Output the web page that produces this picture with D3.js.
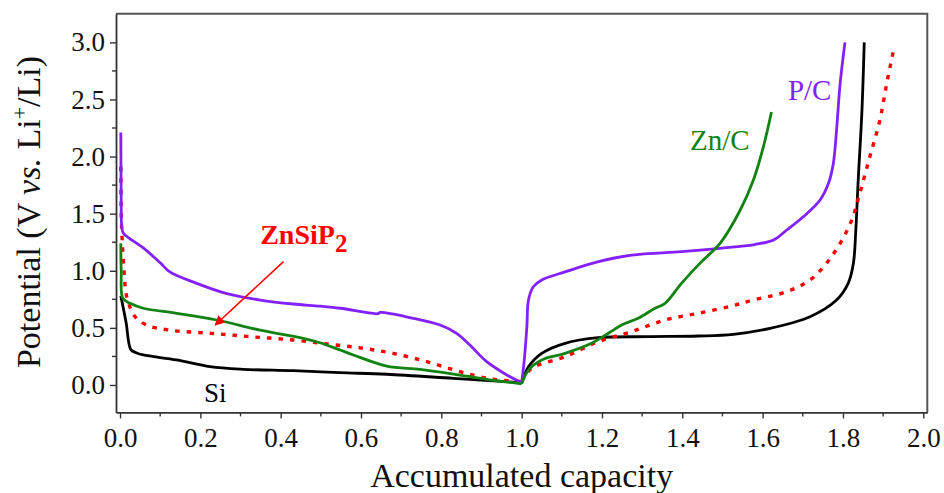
<!DOCTYPE html>
<html>
<head>
<meta charset="utf-8">
<script src="https://cdn.jsdelivr.net/npm/d3@7"></script>
<style>
  html, body { margin: 0; padding: 0; background: #fff; }
  svg { display: block; font-family: "Liberation Serif", "Times New Roman", serif; }
</style>
</head>
<body>
<svg id="chart" width="944" height="493"></svg>
<script>
// Voltage profiles: discharge (0 → 1) followed by charge (1 → end), accumulated capacity
const siCurve = [
  [0.002,0.78],[0.015,0.55],[0.027,0.31],[0.04,0.283],[0.058,0.263],[0.141,0.219],[0.224,0.16],
  [0.307,0.137],[0.431,0.125],[0.548,0.108],[0.664,0.094],[0.83,0.058],[1.0,0.02],
  [1.017,0.16],[1.05,0.277],[1.108,0.365],[1.191,0.414],[1.315,0.423],[1.44,0.429],[1.527,0.444],
  [1.618,0.496],[1.718,0.598],[1.784,0.744],[1.813,0.89],[1.826,1.066],[1.832,1.357],
  [1.838,1.795],[1.847,2.38],[1.853,3.0]
];
const znsip2Curve = [
  [0.002,1.91],[0.003,1.5],[0.005,1.30],[0.01,1.0],[0.017,0.77],[0.037,0.60],[0.066,0.525],
  [0.124,0.48],[0.224,0.453],[0.324,0.423],[0.431,0.394],[0.523,0.356],[0.606,0.321],
  [0.68,0.277],[0.764,0.204],[0.846,0.117],[0.929,0.05],[1.0,0.03],
  [1.025,0.146],[1.108,0.248],[1.191,0.379],[1.274,0.467],[1.357,0.569],[1.44,0.628],
  [1.523,0.692],[1.577,0.744],[1.66,0.817],[1.718,0.919],[1.759,1.066],[1.793,1.24],
  [1.822,1.445],[1.842,1.68],[1.867,2.0],[1.892,2.32],[1.909,2.64],[1.927,2.95]
];
const pcCurve = [
  [0.002,2.21],[0.003,1.6],[0.004,1.40],[0.008,1.33],[0.025,1.28],[0.058,1.20],[0.1,1.07],
  [0.124,0.99],[0.191,0.89],[0.266,0.80],[0.349,0.744],[0.431,0.709],[0.498,0.69],[0.548,0.672],
  [0.641,0.624],[0.648,0.635],[0.73,0.584],[0.797,0.525],[0.838,0.452],[0.871,0.35],
  [0.913,0.204],[0.963,0.088],[1.0,0.02],
  [1.006,0.2],[1.013,0.51],[1.017,0.744],[1.029,0.86],[1.05,0.92],[1.108,0.99],[1.191,1.08],
  [1.274,1.138],[1.398,1.167],[1.494,1.197],[1.58,1.23],[1.627,1.27],[1.66,1.357],[1.71,1.50],
  [1.743,1.62],[1.764,1.766],[1.776,1.94],[1.784,2.23],[1.793,2.64],[1.805,3.0]
];
const zncCurve = [
  [0.002,1.24],[0.003,1.0],[0.007,0.76],[0.025,0.715],[0.058,0.672],[0.141,0.628],[0.241,0.569],
  [0.349,0.48],[0.456,0.409],[0.498,0.37],[0.548,0.306],[0.581,0.263],[0.664,0.166],
  [0.747,0.137],[0.83,0.096],[0.913,0.05],[1.0,0.01],
  [1.017,0.131],[1.05,0.219],[1.108,0.277],[1.174,0.365],[1.216,0.453],[1.249,0.525],
  [1.29,0.584],[1.332,0.672],[1.357,0.715],[1.398,0.89],[1.448,1.08],[1.494,1.24],
  [1.544,1.53],[1.577,1.795],[1.602,2.087],[1.622,2.39]
];

const xMajorTicks = [0.0,0.2,0.4,0.6,0.8,1.0,1.2,1.4,1.6,1.8,2.0];
const xMinorTicks = [0.1,0.3,0.5,0.7,0.9,1.1,1.3,1.5,1.7,1.9];
const yMajorTicks = [0.0,0.5,1.0,1.5,2.0,2.5,3.0];
const yMinorTicks = [0.25,0.75,1.25,1.75,2.25,2.75];

const svg = d3.select("#chart");
const x = d3.scaleLinear().domain([-0.01, 2.01]).range([116, 927.3]);
const y = d3.scaleLinear().domain([-0.24, 3.25]).range([412.4, 13.8]);

// frame on top and right
svg.append("path")
  .attr("d", `M${x.range()[0]},${y.range()[1]}H${x.range()[1]}V${y.range()[0]}`)
  .attr("fill", "none").attr("stroke", "#555").attr("stroke-width", 2);

// bottom axis
const gx = svg.append("g").attr("transform", `translate(0,${y.range()[0]})`);
gx.call(d3.axisBottom(x).tickValues(xMajorTicks).tickSize(6).tickSizeOuter(0).tickPadding(9)
  .tickFormat(d3.format(".1f")));
gx.append("g").selectAll("line").data(xMinorTicks).join("line")
  .attr("x1", d => x(d)).attr("x2", d => x(d)).attr("y1", 0).attr("y2", 4)
  .attr("stroke", "#333").attr("stroke-width", 1.4);

// left axis
const gy = svg.append("g").attr("transform", `translate(${x.range()[0]},0)`);
gy.call(d3.axisLeft(y).tickValues(yMajorTicks).tickSize(6).tickSizeOuter(0).tickPadding(5)
  .tickFormat(d3.format(".1f")));
gy.append("g").selectAll("line").data(yMinorTicks).join("line")
  .attr("y1", d => y(d)).attr("y2", d => y(d)).attr("x1", 0).attr("x2", -4)
  .attr("stroke", "#333").attr("stroke-width", 1.4);

[gx, gy].forEach(g => {
  g.select(".domain").attr("stroke", "#333").attr("stroke-width", 1.8);
  g.selectAll(".tick line").attr("stroke", "#333").attr("stroke-width", 1.4);
  g.selectAll(".tick text").attr("font-family", "Liberation Serif").attr("font-size", 27).attr("fill", "#111");
});

// axis titles
svg.append("text")
  .attr("x", x(1.0)).attr("y", 487)
  .attr("text-anchor", "middle").attr("font-size", 34).attr("fill", "#111")
  .text("Accumulated capacity");

const yTitle = svg.append("text")
  .attr("transform", `translate(40,${212}) rotate(-90)`)
  .attr("text-anchor", "middle").attr("font-size", 34).attr("fill", "#111");
yTitle.append("tspan").text("Potential (V ");
yTitle.append("tspan").attr("font-style", "italic").text("vs.");
yTitle.append("tspan").text(" Li");
yTitle.append("tspan").attr("font-size", 22).attr("dy", -13).text("+");
yTitle.append("tspan").attr("dy", 13).text("/Li)");

// curves: discharge and charge branches are smoothed separately so the turn at 1.0 stays sharp
const line = d3.line().x(d => x(d[0])).y(d => y(d[1])).curve(d3.curveCatmullRom.alpha(0.5));
const series = [
  { data: siCurve, color: "#000000", dash: null },
  { data: znsip2Curve, color: "#ff0000", dash: "4.5,7" },
  { data: pcCurve, color: "#8420ff", dash: null },
  { data: zncCurve, color: "#128312", dash: null }
];
const branches = [];
series.forEach(s => {
  const turn = s.data.findIndex(d => d[0] >= 1.0);
  branches.push({ ...s, pts: s.data.slice(0, turn + 1) });
  branches.push({ ...s, pts: s.data.slice(turn) });
});
svg.append("g").selectAll("path").data(branches).join("path")
  .attr("d", d => line(d.pts))
  .attr("fill", "none")
  .attr("stroke", d => d.color)
  .attr("stroke-width", d => d.dash ? 3.4 : 2.8)
  .attr("stroke-dasharray", d => d.dash)
  .attr("stroke-linejoin", "round");

// curve labels
svg.append("text").attr("x", x(0.209)).attr("y", y(-0.149))
  .attr("font-size", 27).attr("fill", "#000").text("Si");
svg.append("text").attr("x", x(1.419)).attr("y", y(2.058))
  .attr("font-size", 29).attr("fill", "#128312").text("Zn/C");
svg.append("text").attr("x", x(1.663)).attr("y", y(2.496))
  .attr("font-size", 29).attr("fill", "#8420ff").text("P/C");

const zLabel = svg.append("text").attr("x", x(0.349)).attr("y", y(1.235))
  .attr("font-size", 28).attr("font-weight", "bold").attr("fill", "#ff0000");
zLabel.append("tspan").text("ZnSiP");
zLabel.append("tspan").attr("font-size", 25).attr("dy", 8).text("2");

// arrow pointing to the ZnSiP2 curve
const defs = svg.append("defs");
defs.append("marker").attr("id", "arrowHead")
  .attr("viewBox", "0 0 10 10").attr("refX", 9).attr("refY", 5)
  .attr("markerWidth", 12).attr("markerHeight", 10).attr("markerUnits", "userSpaceOnUse")
  .attr("orient", "auto")
  .append("path").attr("d", "M0,0L10,5L0,10Z").attr("fill", "#ff0000");
svg.append("line")
  .attr("x1", x(0.407)).attr("y1", y(1.08))
  .attr("x2", x(0.237)).attr("y2", y(0.525))
  .attr("stroke", "#ff0000").attr("stroke-width", 1.6)
  .attr("marker-end", "url(#arrowHead)");
</script>
</body>
</html>
